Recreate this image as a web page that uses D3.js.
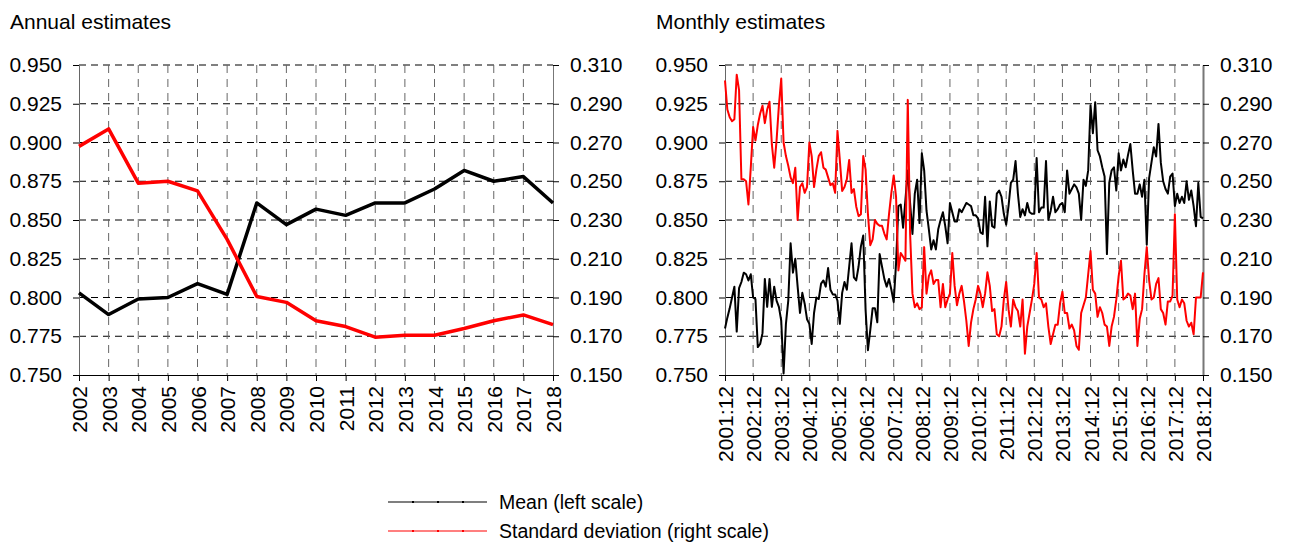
<!DOCTYPE html>
<html>
<head>
<meta charset="utf-8">
<title>annual-monthly-estimates</title>
<script src="https://cdn.jsdelivr.net/npm/d3@7"></script>
<style>
body{margin:0;background:#fff;}
svg text{font-family:"Liberation Sans", Arial, sans-serif;fill:#000;}
</style>
</head>
<body>
<svg id="chart" width="1289" height="542"></svg>
<script>
// annual panel
var years = [2002,2003,2004,2005,2006,2007,2008,2009,2010,2011,2012,2013,2014,2015,2016,2017,2018];
var annualMean = [0.803,0.789,0.799,0.800,0.809,0.802,0.861,0.847,0.857,0.853,0.861,0.861,0.870,0.882,0.875,0.878,0.861];
var annualSd = [0.268,0.277,0.249,0.250,0.245,0.220,0.1905,0.1875,0.178,0.175,0.1695,0.1705,0.1705,0.174,0.178,0.181,0.176];

// monthly panel, 2001:12 .. 2018:12
var monthlyMean = [
  0.780,0.787,0.793,0.800,0.807,0.778,0.806,0.810,0.816,0.815,0.811,0.815,0.800,0.799,0.768,0.770,0.777,0.812,0.794,0.812,
  0.794,0.807,0.798,0.794,0.785,0.751,0.783,0.798,0.835,0.816,0.825,0.807,0.790,0.803,0.796,
  0.786,0.783,0.770,0.790,0.800,0.799,0.809,0.811,0.807,0.819,0.805,0.802,0.802,0.798,0.783,0.803,0.810,0.805,0.820,0.835,
  0.813,0.811,0.820,0.833,0.840,0.792,0.766,0.779,0.793,0.793,0.784,0.828,0.820,0.812,
  0.807,0.812,0.805,0.797,0.822,0.859,0.860,0.845,0.863,0.882,0.861,0.841,0.867,0.876,0.848,0.893,0.882,0.856,0.844,0.831,
  0.837,0.831,0.844,0.850,0.855,0.846,0.835,0.861,0.855,0.849,0.849,0.857,0.855,0.858,0.861,
  0.860,0.859,0.853,0.853,0.851,0.842,0.841,0.865,0.833,0.862,0.846,0.845,0.867,0.869,0.865,0.854,0.847,0.859,0.874,0.876,
  0.888,0.867,0.852,0.857,0.853,0.861,0.855,0.854,0.854,0.890,0.855,0.858,0.858,0.888,
  0.850,0.856,0.865,0.855,0.857,0.860,0.861,0.855,0.882,0.867,0.870,0.873,0.871,0.867,0.850,0.876,0.872,0.882,0.924,0.906,
  0.926,0.895,0.891,0.884,0.878,0.828,0.874,0.882,0.884,0.869,0.893,0.882,0.889,0.884,
  0.892,0.899,0.882,0.867,0.867,0.873,0.865,0.876,0.834,0.877,0.887,0.897,0.891,0.912,0.887,0.875,0.870,0.867,0.878,0.880,
  0.859,0.867,0.861,0.865,0.861,0.875,0.863,0.869,0.859,0.846,0.874,0.852,0.851
];
var monthlySd = [
  0.302,0.287,0.283,0.281,0.282,0.305,0.297,0.251,0.251,0.250,0.238,0.257,0.278,0.271,0.279,0.285,0.289,0.280,0.287,0.291,
  0.269,0.257,0.271,0.289,0.303,0.270,0.263,0.258,0.252,0.249,0.257,0.230,0.247,0.249,0.244,
  0.247,0.270,0.263,0.247,0.256,0.263,0.265,0.257,0.256,0.252,0.248,0.249,0.244,0.276,0.261,0.245,0.247,0.251,0.261,0.244,
  0.246,0.237,0.232,0.233,0.263,0.256,0.233,0.217,0.220,0.230,0.228,0.227,0.227,0.223,
  0.220,0.233,0.244,0.253,0.242,0.204,0.213,0.211,0.209,0.292,0.223,0.192,0.185,0.187,0.184,0.185,0.216,0.192,0.201,0.204,
  0.197,0.199,0.199,0.185,0.197,0.185,0.189,0.192,0.213,0.196,0.186,0.192,0.196,0.188,0.178,
  0.165,0.177,0.184,0.189,0.196,0.192,0.185,0.192,0.203,0.196,0.183,0.184,0.171,0.170,0.175,0.189,0.198,0.184,0.175,0.189,
  0.185,0.183,0.175,0.189,0.161,0.175,0.182,0.189,0.197,0.213,0.190,0.189,0.185,
  0.187,0.175,0.166,0.171,0.176,0.176,0.187,0.193,0.182,0.182,0.174,0.176,0.173,0.165,0.163,0.182,0.186,0.190,0.202,0.214,
  0.194,0.192,0.180,0.185,0.182,0.176,0.175,0.165,0.175,0.180,0.189,0.201,0.209,0.189,
  0.190,0.192,0.191,0.184,0.192,0.165,0.179,0.184,0.202,0.216,0.199,0.189,0.190,0.197,0.200,0.184,0.182,0.176,0.188,0.188,
  0.191,0.233,0.189,0.185,0.189,0.187,0.178,0.175,0.177,0.171,0.190,0.190,0.190,0.203
];
var monthTickLabels = ["2001:12","2002:12","2003:12","2004:12","2005:12","2006:12","2007:12","2008:12","2009:12",
  "2010:12","2011:12","2012:12","2013:12","2014:12","2015:12","2016:12","2017:12","2018:12"];

var meanTicks = [0.750,0.775,0.800,0.825,0.850,0.875,0.900,0.925,0.950];
var sdTicks = [0.150,0.170,0.190,0.210,0.230,0.250,0.270,0.290,0.310];

var svg = d3.select('#chart');
svg.append('rect').attr('width',1289).attr('height',542).attr('fill','#fff');

var plotTop = 65, plotBottom = 375;
var yL = d3.scaleLinear().domain([0.75,0.95]).range([plotBottom, plotTop]);
var yR = d3.scaleLinear().domain([0.15,0.31]).range([plotBottom, plotTop]);
var fmt = d3.format('.3f');

function drawPanel(x, xTicks, xFormat, title, mean, sd, xOf, lineWidth){
	var x0 = x.range()[0], x1 = x.range()[1];
	var g = svg.append('g');

	g.append('text').text(title).attr('x', x0 - 69).attr('y', 29).style('font-size','21px');

	// horizontal grid
	g.append('g').selectAll('line').data(meanTicks.slice(1)).enter().append('line')
		.attr('x1', x0).attr('x2', x1)
		.attr('y1', function(d){return yL(d);}).attr('y2', function(d){return yL(d);})
		.attr('stroke','#000').attr('stroke-width',1).attr('stroke-dasharray','7,5');

	// vertical grid
	g.append('g').selectAll('line').data(xTicks.slice(1,-1)).enter().append('line')
		.attr('x1', function(d){return x(d);}).attr('x2', function(d){return x(d);})
		.attr('y1', plotTop).attr('y2', plotBottom)
		.attr('stroke','#666').attr('stroke-width',1).attr('stroke-dasharray','8,6');

	var axL = g.append('g').attr('transform','translate('+x0+',0)')
		.call(d3.axisLeft(yL).tickValues(meanTicks).tickFormat(fmt).tickSize(6).tickSizeOuter(0).tickPadding(11));
	var axR = g.append('g').attr('transform','translate('+x1+',0)')
		.call(d3.axisRight(yR).tickValues(sdTicks).tickFormat(fmt).tickSize(6).tickSizeOuter(0).tickPadding(11));
	var axB = g.append('g').attr('transform','translate(0,'+plotBottom+')')
		.call(d3.axisBottom(x).tickValues(xTicks).tickFormat(xFormat).tickSize(6).tickSizeOuter(0));

	[axL, axR, axB].forEach(function(a){
		a.selectAll('text').style('font-size','21px').attr('fill','#000');
		a.selectAll('line').attr('stroke','#000');
	});
	axL.select('.domain').attr('stroke','#666');
	axR.select('.domain').attr('stroke','#777').attr('stroke-width', lineWidth < 3 ? 2 : 1);
	axB.select('.domain').attr('stroke','#000');
	axB.selectAll('text')
		.attr('transform','rotate(-90)')
		.attr('text-anchor','end')
		.attr('x',-11).attr('y',0).attr('dy','0.36em');

	var lineL = d3.line().x(function(d,i){return x(xOf(i));}).y(function(d){return yL(d);});
	var lineR = d3.line().x(function(d,i){return x(xOf(i));}).y(function(d){return yR(d);});

	g.append('path').datum(mean).attr('d', lineL)
		.attr('fill','none').attr('stroke','#000').attr('stroke-width',lineWidth).attr('stroke-linejoin','round');
	g.append('path').datum(sd).attr('d', lineR)
		.attr('fill','none').attr('stroke','#ff0000').attr('stroke-width',lineWidth).attr('stroke-linejoin','round');
}

var xAnnual = d3.scaleLinear().domain([years[0], years[years.length-1]]).range([79, 553]);
drawPanel(xAnnual, years, d3.format('d'), 'Annual estimates', annualMean, annualSd,
	function(i){return years[i];}, 3.5);

var monthTicks = monthTickLabels.map(function(d,i){return i*12;});
var xMonthly = d3.scaleLinear().domain([0, monthlyMean.length-1]).range([725, 1203]);
drawPanel(xMonthly, monthTicks, function(d){return monthTickLabels[d/12];}, 'Monthly estimates',
	monthlyMean, monthlySd, function(i){return i;}, 2);

// legend
var legendItems = [
	{label:'Mean (left scale)', color:'#000'},
	{label:'Standard deviation (right scale)', color:'#ff0000'}
];
var legend = svg.append('g').attr('transform','translate(388,502)');
var item = legend.selectAll('g').data(legendItems).enter().append('g')
	.attr('transform', function(d,i){return 'translate(0,'+(i*29)+')';});
item.append('line').attr('x1',0).attr('x2',99).attr('y1',0).attr('y2',0)
	.attr('stroke', function(d){return d.color;}).attr('stroke-width',1.2);
item.each(function(d){
	d3.select(this).selectAll('rect').data([25,50,75]).enter().append('rect')
		.attr('x', function(p){return p-1;}).attr('y',-1).attr('width',2).attr('height',2)
		.attr('fill', d.color);
});
item.append('text').text(function(d){return d.label;})
	.attr('x',111).attr('y',7).style('font-size','19.5px');
</script>
</body>
</html>
